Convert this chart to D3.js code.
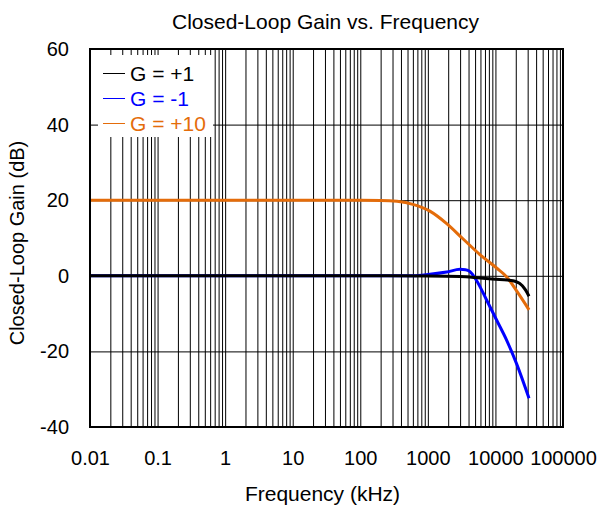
<!DOCTYPE html>
<html>
<head>
<meta charset="utf-8">
<script src="https://cdn.jsdelivr.net/npm/d3@7"></script>
<style>
  body { margin: 0; background: #fff; }
  text { font-family: "Liberation Sans", Arial, sans-serif; fill: #000; }
</style>
</head>
<body>
<div id="chart"></div>
<script>

// frequency in kHz, gain in dB
var freqG1 = [0.01, 0.1, 1, 10, 100, 1000, 3000, 6000, 10000, 15000, 20000, 25000, 28000, 31400];
var gainG1 = [0, 0, 0, 0, 0, -0.05, -0.2, -0.6, -0.9, -1.1, -1.5, -2.6, -3.8, -5.4];

var freqGm1 = [0.01, 0.1, 1, 10, 100, 600, 1070, 1900, 3000, 3600, 4200, 5200, 7400, 10400, 14800, 20600, 31400];
var gainGm1 = [0, 0, 0, 0, 0, 0, 0.4, 1.0, 1.7, 1.6, 1.1, -1.1, -6.4, -11.7, -17.2, -23.3, -32.4];

var freqG10 = [0.01, 0.1, 1, 10, 100, 200, 350, 600, 1070, 1900, 3300, 5900, 10500, 14700, 20600, 31400];
var gainG10 = [20, 20, 20, 20, 20, 19.95, 19.7, 18.9, 17.1, 13.8, 9.8, 5.6, 2.0, -0.3, -4.0, -9.0];

var seriesNames = ['G = +1', 'G = -1', 'G = +10'];
var seriesColors = ['#000000', '#0000ff', '#e46c0a'];

var xTickValues = [0.01, 0.1, 1, 10, 100, 1000, 10000, 100000];
var xTickLabels = ['0.01', '0.1', '1', '10', '100', '1000', '10000', '100000'];
var yTickValues = [-40, -20, 0, 20, 40, 60];

var width = 600, height = 509;
var margin = {top: 49, right: 37, bottom: 82, left: 90};
var w = width - margin.left - margin.right,
    h = height - margin.top - margin.bottom;

var svg = d3.select('#chart').append('svg')
  .attr('width', width)
  .attr('height', height);

var x = d3.scaleLog().domain([0.01, 100000]).range([0, w]),
    y = d3.scaleLinear().domain([-40, 60]).range([h, 0]);

var g = svg.append('g')
  .attr('transform', 'translate(' + margin.left + ',' + margin.top + ')');

// minor + major vertical grid
var gridX = [];
for (var e = -2; e < 5; e++) {
  for (var m = 1; m <= 9; m++) gridX.push(m * Math.pow(10, e));
}
gridX.push(100000);

g.append('g')
  .attr('class', 'grid')
  .attr('transform', 'translate(0,' + h + ')')
  .call(d3.axisBottom(x).tickValues(gridX).tickSize(-h).tickFormat(''))
  .call(function(s) { s.select('.domain').remove(); })
  .selectAll('line').attr('stroke', '#000').attr('stroke-width', 1);

g.append('g')
  .attr('class', 'grid')
  .call(d3.axisLeft(y).tickValues(yTickValues).tickSize(-w).tickFormat(''))
  .call(function(s) { s.select('.domain').remove(); })
  .selectAll('line').attr('stroke', '#000').attr('stroke-width', 1);

// tick labels
var xAxis = g.append('g')
  .attr('transform', 'translate(0,' + h + ')')
  .call(d3.axisBottom(x).tickValues(xTickValues).tickSize(0).tickPadding(24)
    .tickFormat(function(d, i) { return xTickLabels[i]; }));
xAxis.select('.domain').remove();
xAxis.selectAll('text').style('font-size', '20px').attr('font-family', null);

var yAxis = g.append('g')
  .call(d3.axisLeft(y).tickValues(yTickValues).tickSize(0).tickPadding(21)
    .tickFormat(function(d) { return String(d); }));
yAxis.select('.domain').remove();
yAxis.selectAll('text').style('font-size', '20px').attr('font-family', null);

// curves
var series = [
  {f: freqG1, v: gainG1},
  {f: freqGm1, v: gainGm1},
  {f: freqG10, v: gainG10}
];

var line = d3.line()
  .x(function(d) { return x(d[0]); })
  .y(function(d) { return y(d[1]); })
  .curve(d3.curveMonotoneX);

// draw G=+10 and G=-1 first, then G=+1 on top
[2, 1, 0].forEach(function(i) {
  var pts = series[i].f.map(function(f, j) { return [f, series[i].v[j]]; });
  g.append('path')
    .datum(pts)
    .attr('fill', 'none')
    .attr('stroke', seriesColors[i])
    .attr('stroke-width', 3)
    .attr('stroke-linejoin', 'round')
    .attr('d', line);
});

// legend
var legend = g.append('g');
legend.append('rect')
  .attr('x', 8).attr('y', 6)
  .attr('width', 115).attr('height', 82)
  .attr('fill', '#fff');

seriesNames.forEach(function(name, i) {
  var ly = 24 + i * 25;
  legend.append('line')
    .attr('x1', 13).attr('x2', 35)
    .attr('y1', ly + 0.5).attr('y2', ly + 0.5)
    .attr('stroke', seriesColors[i])
    .attr('stroke-width', 1);
  legend.append('text')
    .attr('x', 40).attr('y', ly + 7.5)
    .style('font-size', '21px')
    .style('fill', seriesColors[i])
    .text(name);
});

// plot border
g.append('rect')
  .attr('width', w).attr('height', h)
  .attr('fill', 'none')
  .attr('stroke', '#000')
  .attr('stroke-width', 2);

// titles
svg.append('text')
  .attr('x', margin.left + w / 2 - 1).attr('y', 29)
  .attr('text-anchor', 'middle')
  .style('font-size', '21px')
  .text('Closed-Loop Gain vs. Frequency');

svg.append('text')
  .attr('x', margin.left + w / 2 - 4).attr('y', 501)
  .attr('text-anchor', 'middle')
  .style('font-size', '21px')
  .text('Frequency (kHz)');

svg.append('text')
  .attr('transform', 'translate(24,' + (margin.top + h / 2 + 5) + ')rotate(-90)')
  .attr('text-anchor', 'middle')
  .style('font-size', '20px')
  .text('Closed-Loop Gain (dB)');

</script>
</body>
</html>
